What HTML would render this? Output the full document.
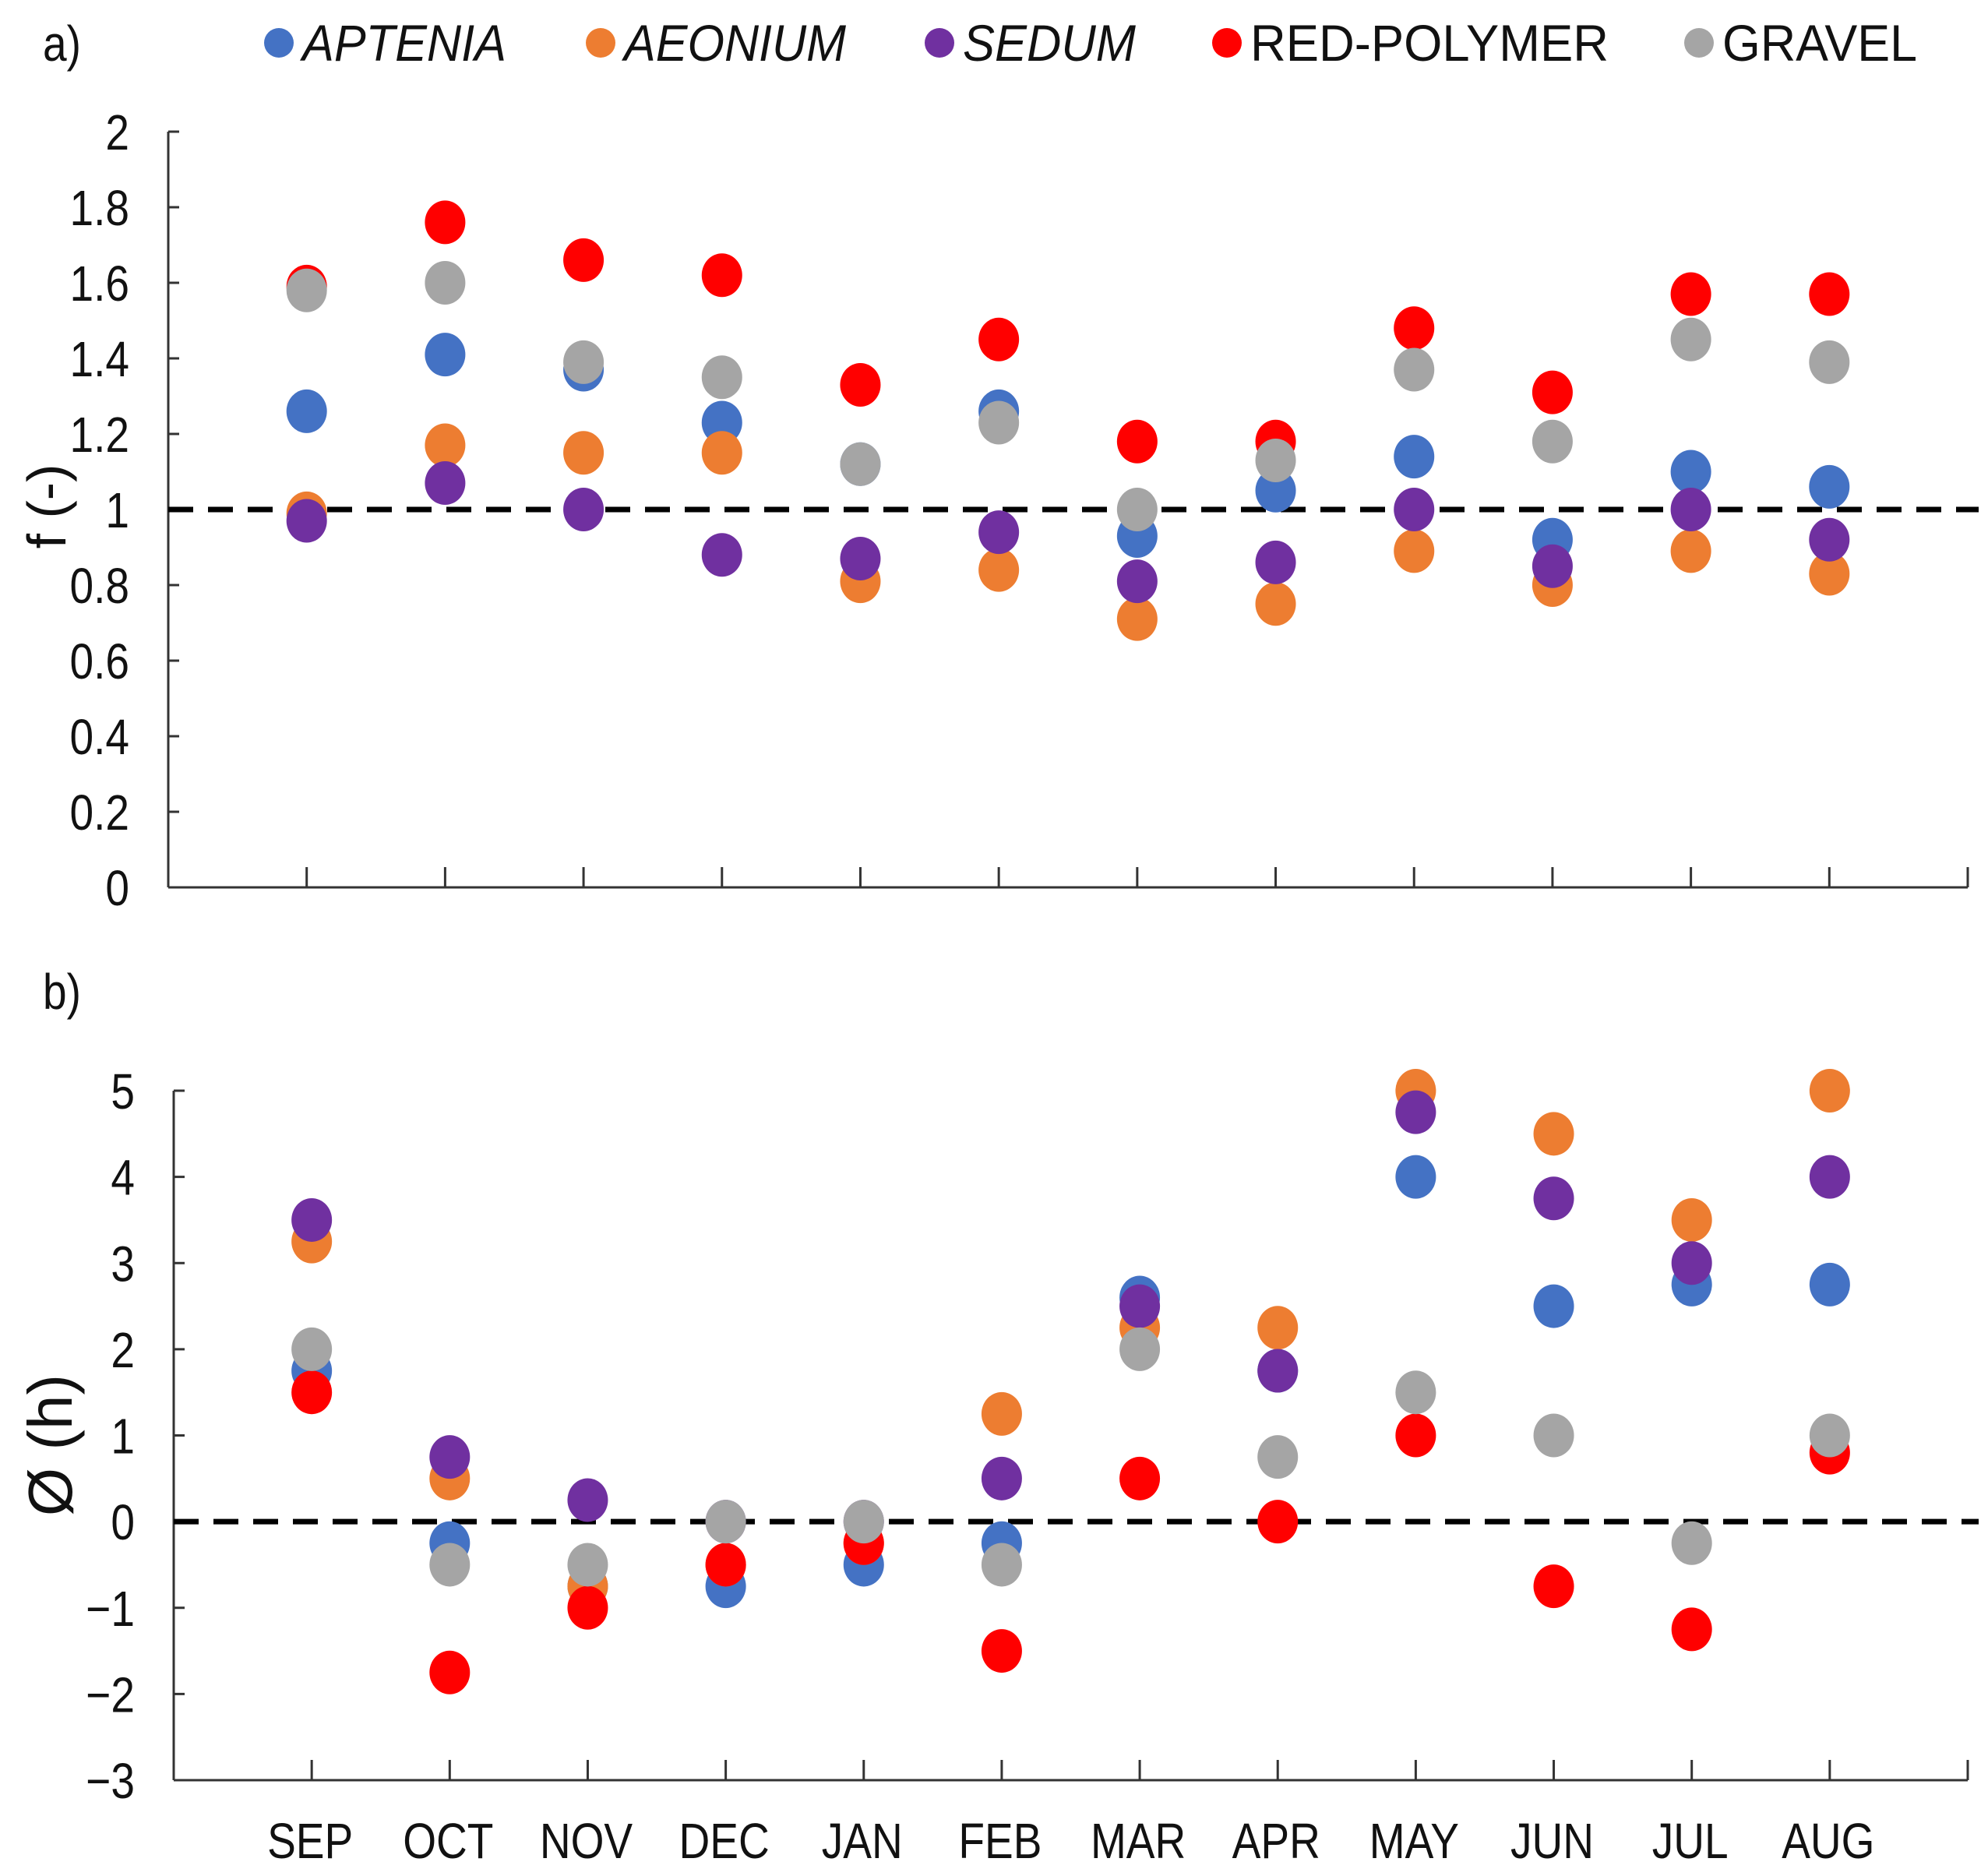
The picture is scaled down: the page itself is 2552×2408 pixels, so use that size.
<!DOCTYPE html>
<html><head><meta charset="utf-8"><style>
html,body{margin:0;padding:0;background:#fff}
svg{display:block}
text{font-family:"Liberation Sans",Arial,sans-serif;fill:#111}
</style></head><body>
<svg id="chart" width="2552" height="2408" viewBox="0 0 2552 2408" xmlns="http://www.w3.org/2000/svg">
<g id="g"></g>
</svg>
<script>
const months=["SEP","OCT","NOV","DEC","JAN","FEB","MAR","APR","MAY","JUN","JUL","AUG"];
const seriesNames=["APTENIA","AEONIUM","SEDUM","RED-POLYMER","GRAVEL"];
const seriesColors=["#4472c4","#ed7d31","#7030a0","#ff0000","#a5a5a5"];
const fAptenia=[1.26,1.41,1.37,1.23,1.12,1.26,0.93,1.05,1.14,0.92,1.10,1.06];
const fAeonium=[0.99,1.17,1.15,1.15,0.81,0.84,0.71,0.75,0.89,0.80,0.89,0.83];
const fSedum=[0.97,1.07,1.00,0.88,0.87,0.94,0.81,0.86,1.00,0.85,1.00,0.92];
const fRed=[1.59,1.76,1.66,1.62,1.33,1.45,1.18,1.18,1.48,1.31,1.57,1.57];
const fGravel=[1.58,1.60,1.39,1.35,1.12,1.23,1.00,1.13,1.37,1.18,1.45,1.39];
const pAptenia=[1.75,-0.25,-0.75,-0.75,-0.5,-0.25,2.6,1.75,4,2.5,2.75,2.75];
const pAeonium=[3.25,0.5,-0.75,-0.5,-0.25,1.25,2.25,2.25,5,4.5,3.5,5];
const pSedum=[3.5,0.75,0.25,0,0,0.5,2.5,1.75,4.75,3.75,3,4];
const pRed=[1.5,-1.75,-1,-0.5,-0.25,-1.5,0.5,0,1,-0.75,-1.25,0.8];
const pGravel=[2,-0.5,-0.5,0,0,-0.5,2,0.75,1.5,1,-0.25,1];
const fTicks=[0,0.2,0.4,0.6,0.8,1,1.2,1.4,1.6,1.8,2];
const pTicks=[-3,-2,-1,0,1,2,3,4,5];

const NS="http://www.w3.org/2000/svg";
const g=document.getElementById('g');
function mk(tag,attrs,parent){const e=document.createElementNS(NS,tag);for(const k in attrs)e.setAttribute(k,attrs[k]);(parent||g).appendChild(e);return e;}
function txt(x,y,size,anchor,str,parent,extra){
  const t=mk('text',Object.assign({x:0,y:0,'font-size':size,'text-anchor':anchor,transform:'translate('+x+','+y+') scale(0.86,1)'},extra||{}),parent);
  t.textContent=str;return t;
}

function panel(cfg){
  const {x0,x1,yTop,yBot,vMin,vMax,ticks,data,name}=cfg;
  const xs=i=>x0+(i+1)*(x1-x0)/13;
  const ys=v=>yBot-(v-vMin)/(vMax-vMin)*(yBot-yTop);
  const ax=mk('g',{});
  
  
  mk('line',{x1:x0,y1:yTop,x2:x0,y2:yBot,stroke:'#333','stroke-width':3},ax);
  mk('line',{x1:x0,y1:yBot,x2:x1,y2:yBot,stroke:'#333','stroke-width':3},ax);
  ticks.forEach(t=>{
    mk('line',{x1:x0,y1:ys(t),x2:x0+14,y2:ys(t),stroke:'#333','stroke-width':3},ax);
    const tx=txt(x0-50,ys(t)+23,64,'end',(t<0?'\u2212'+(-t):String(t)),ax);
    
    
  });
  for(let i=0;i<13;i++){const x=x0+(i+1)*(x1-x0)/13;mk('line',{x1:x,y1:yBot,x2:x,y2:yBot-26,stroke:'#333','stroke-width':3},ax);}
  const dl=mk('line',{x1:x0,y1:ys(cfg.ref),x2:2540,y2:ys(cfg.ref),stroke:'#000','stroke-width':7,'stroke-dasharray':'32 19'},ax);
  
  
  data.forEach((arr,s)=>{
    arr.forEach((v,i)=>{
      const c=mk('ellipse',{cx:xs(i),cy:ys(v),rx:26,ry:28,fill:seriesColors[s]});
      
      
    });
  });
  return xs;
}
panel({name:'f-panel',x0:216,x1:2526,yTop:169,yBot:1139,vMin:0,vMax:2,ticks:fTicks,ref:1,data:[fAptenia,fAeonium,fSedum,fRed,fGravel]});
const xs2=panel({name:'phi-panel',x0:223,x1:2526,yTop:1400,yBot:2285,vMin:-3,vMax:5,ticks:pTicks,ref:0,data:[pAptenia,pAeonium,pSedum,pRed,pGravel]});
months.forEach((m,i)=>{
  const t=txt(xs2(i)-2,2385,64,'middle',m);
  
  
});
// legend
const legX=[358,771,1206,1575,2181];
const legW=[262,285,222,460,250];
seriesNames.forEach((n,s)=>{
  const c=mk('circle',{cx:legX[s],cy:55,r:19,fill:seriesColors[s]});
  
  
  const t=mk('text',{x:legX[s]+30,y:78,'font-size':66,'font-style':s<3?'italic':'normal',textLength:legW[s],lengthAdjust:'spacingAndGlyphs'});
  t.textContent=n;
  
  
});
const la=txt(55,78,64,'start','a)');


const lb=txt(55,1295,64,'start','b)');


const yt1=mk('text',{x:0,y:0,'font-size':70,'text-anchor':'middle',transform:'translate(84,650) rotate(-90)'});yt1.textContent='f (-)';


const yt2=mk('text',{x:0,y:0,'font-size':80,'text-anchor':'middle',transform:'translate(92,1855) rotate(-90)'});yt2.textContent='Ø (h)';


</script>
</body></html>
